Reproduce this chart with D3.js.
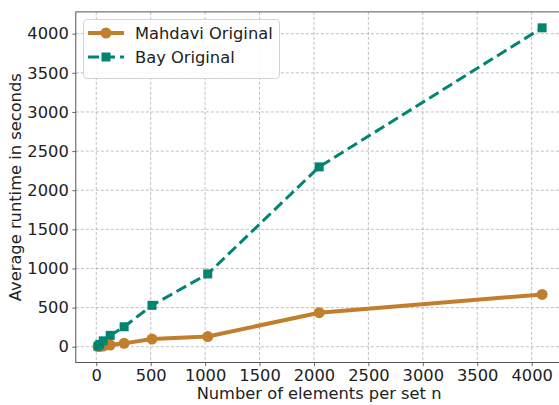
<!DOCTYPE html>
<html>
<head>
<meta charset="utf-8">
<script src="https://cdn.jsdelivr.net/npm/d3@7"></script>
<style>
  html, body { margin: 0; padding: 0; background: #fff; }
  svg { display: block; font-family: "DejaVu Sans", sans-serif; }
</style>
</head>
<body>
<svg id="chart" width="559" height="405"></svg>
<script>
// Set sizes n and measured average runtimes (seconds)
const setSizes = [16, 32, 64, 128, 256, 512, 1024, 2048, 4096];
const mahdaviRuntime = [2, 4, 8, 22, 43, 98, 130, 435, 668];
const bayRuntime = [8, 30, 75, 145, 255, 529, 930, 2298, 4075];
const seriesNames = ["Mahdavi Original", "Bay Original"];
const xTicks = [0, 500, 1000, 1500, 2000, 2500, 3000, 3500, 4000];
const yTicks = [0, 500, 1000, 1500, 2000, 2500, 3000, 3500, 4000];

const colors = ["#c17f2e", "#018571"];
const fontSize = "16.3px";

const svg = d3.select("#chart");
const plot = { left: 75.8, right: 564.3, top: 11.9, bottom: 362.5 };

const x = d3.scaleLinear().domain([-188, 4300]).range([plot.left, plot.right]);
const y = d3.scaleLinear().domain([-201.6, 4278.6]).range([plot.bottom, plot.top]);

// grid
const grid = svg.append("g");
grid.selectAll("line.vx").data(xTicks).join("line")
  .attr("x1", d => x(d)).attr("x2", d => x(d))
  .attr("y1", plot.top).attr("y2", plot.bottom)
  .attr("stroke", "#b0b0b0").attr("stroke-width", 0.8).attr("stroke-dasharray", "3,2");
grid.selectAll("line.hy").data(yTicks).join("line")
  .attr("y1", d => y(d)).attr("y2", d => y(d))
  .attr("x1", plot.left).attr("x2", plot.right)
  .attr("stroke", "#b0b0b0").attr("stroke-width", 0.8).attr("stroke-dasharray", "3,2");

// axes
const xAxis = d3.axisBottom(x).tickValues(xTicks).tickSize(3.5).tickPadding(3).tickFormat(d3.format("d"));
const yAxis = d3.axisLeft(y).tickValues(yTicks).tickSize(3.5).tickPadding(3.5).tickFormat(d3.format("d"));

const gx = svg.append("g").attr("transform", `translate(0,${plot.bottom})`).call(xAxis);
const gy = svg.append("g").attr("transform", `translate(${plot.left},0)`).call(yAxis);
[gx, gy].forEach(g => {
  g.select(".domain").remove();
  g.selectAll(".tick line").attr("stroke", "#444").attr("stroke-width", 0.8);
  g.selectAll(".tick text").attr("fill", "#222").style("font-size", fontSize)
    .style("font-family", "'DejaVu Sans', sans-serif");
});

// spines
svg.append("rect")
  .attr("x", plot.left).attr("y", plot.top)
  .attr("width", plot.right - plot.left).attr("height", plot.bottom - plot.top)
  .attr("fill", "none").attr("stroke", "#444").attr("stroke-width", 0.9);

// axis labels
svg.append("text")
  .attr("x", (plot.left + plot.right) / 2 - 1).attr("y", 399)
  .attr("text-anchor", "middle").attr("fill", "#222").style("font-size", fontSize)
  .text("Number of elements per set n");
svg.append("text")
  .attr("transform", `translate(21,${(plot.top + plot.bottom) / 2}) rotate(-90)`)
  .attr("text-anchor", "middle").attr("fill", "#222").style("font-size", fontSize)
  .text("Average runtime in seconds");

// series
svg.append("clipPath").attr("id", "plotclip").append("rect")
  .attr("x", plot.left).attr("y", plot.top)
  .attr("width", plot.right - plot.left).attr("height", plot.bottom - plot.top);

const line = d3.line().x(d => x(d[0])).y(d => y(d[1]));
const mahdavi = setSizes.map((n, i) => [n, mahdaviRuntime[i]]);
const bay = setSizes.map((n, i) => [n, bayRuntime[i]]);

const series = svg.append("g");
series.append("path").datum(mahdavi).attr("d", line)
  .attr("fill", "none").attr("stroke", colors[0]).attr("stroke-width", 4)
  .attr("stroke-linejoin", "round").attr("stroke-linecap", "round")
  .attr("clip-path", "url(#plotclip)");
series.selectAll("circle.m").data(mahdavi).join("circle")
  .attr("cx", d => x(d[0])).attr("cy", d => y(d[1])).attr("r", 5.5)
  .attr("fill", colors[0]);

series.append("path").datum(bay).attr("d", line)
  .attr("fill", "none").attr("stroke", colors[1]).attr("stroke-width", 3)
  .attr("stroke-dasharray", "11,5")
  .attr("clip-path", "url(#plotclip)");
const sq = 9;
series.selectAll("rect.b").data(bay).join("rect")
  .attr("x", d => x(d[0]) - sq / 2).attr("y", d => y(d[1]) - sq / 2)
  .attr("width", sq).attr("height", sq)
  .attr("fill", colors[1]);

// legend
const legend = svg.append("g");
legend.append("rect")
  .attr("x", 83.5).attr("y", 19.5).attr("width", 196).attr("height", 59).attr("rx", 3.5)
  .attr("fill", "#fff").attr("fill-opacity", 0.85).attr("stroke", "#d0d0d0").attr("stroke-width", 0.9);

const rows = [33, 57];
// Mahdavi entry
legend.append("line").attr("x1", 88).attr("x2", 124).attr("y1", rows[0]).attr("y2", rows[0])
  .attr("stroke", colors[0]).attr("stroke-width", 4);
legend.append("circle").attr("cx", 106).attr("cy", rows[0]).attr("r", 5.5).attr("fill", colors[0]);
// Bay entry
legend.append("line").attr("x1", 88).attr("x2", 124).attr("y1", rows[1]).attr("y2", rows[1])
  .attr("stroke", colors[1]).attr("stroke-width", 3).attr("stroke-dasharray", "11,5");
legend.append("rect").attr("x", 106 - sq / 2).attr("y", rows[1] - sq / 2)
  .attr("width", sq).attr("height", sq).attr("fill", colors[1]);

legend.selectAll("text").data(seriesNames).join("text")
  .attr("x", 135).attr("y", (d, i) => rows[i])
  .attr("dy", "0.35em").attr("fill", "#222").style("font-size", fontSize)
  .text(d => d);
</script>
</body>
</html>
